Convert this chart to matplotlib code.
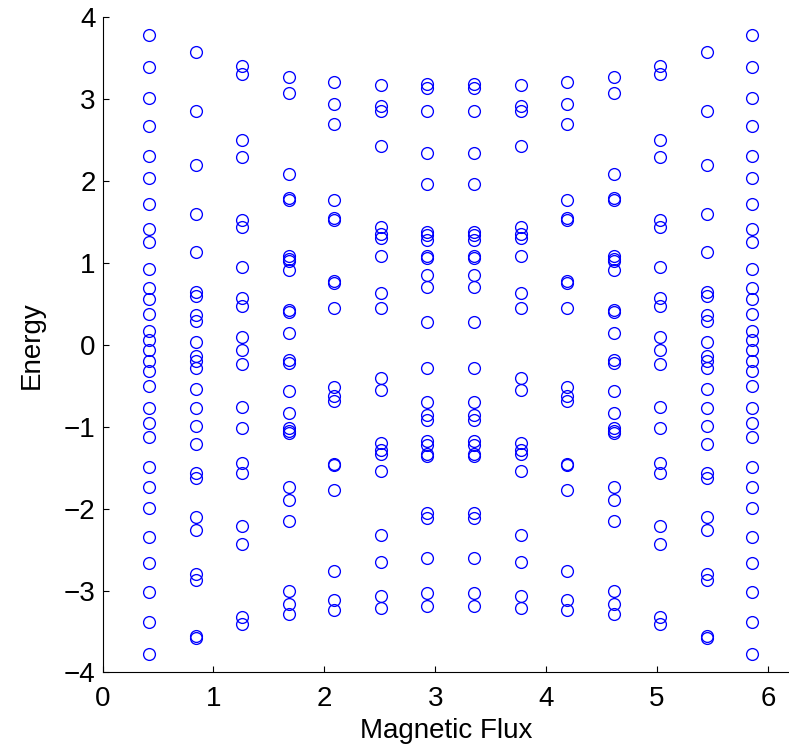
import matplotlib
matplotlib.use("Agg")
import matplotlib.pyplot as plt

plt.rcParams["font.family"] = ["Liberation Sans", "DejaVu Sans"]

# Flux values (x positions of the columns)
flux = [0.42, 0.84, 1.26, 1.68, 2.09, 2.51, 2.93,
        3.35, 3.77, 4.19, 4.61, 5.03, 5.45, 5.86]

# Energy levels (left half; right half mirrors it)
col1 = [3.78, 3.39, 3.01, 2.67, 2.31, 2.04, 1.72, 1.41, 1.25, 0.93,
        0.69, 0.56, 0.38, 0.17, 0.06, -0.06, -0.20, -0.32, -0.50, -0.77,
        -0.96, -1.13, -1.49, -1.74, -1.99, -2.35, -2.66, -3.02, -3.38, -3.78]
col2 = [3.57, 2.85, 2.19, 1.60, 1.13, 0.65, 0.60, 0.37, 0.29, 0.04,
        -0.14, -0.20, -0.28, -0.54, -0.77, -0.99, -1.21, -1.57, -1.63,
        -2.10, -2.26, -2.80, -2.87, -3.56, -3.58]
col3 = [3.41, 3.31, 2.50, 2.29, 1.53, 1.44, 0.95, 0.57, 0.48, 0.10,
        -0.06, -0.24, -0.76, -1.02, -1.44, -1.57, -2.21, -2.43, -3.32, -3.41]
col4 = [3.27, 3.08, 2.09, 1.79, 1.77, 1.08, 1.05, 1.02, 0.91, 0.42,
        0.40, 0.14, -0.18, -0.22, -0.56, -0.83, -1.02, -1.05, -1.08,
        -1.73, -1.89, -2.15, -3.01, -3.17, -3.29]
col5 = [3.21, 2.94, 2.70, 1.77, 1.55, 1.53, 0.78, 0.76, 0.45, -0.51,
        -0.63, -0.68, -1.45, -1.47, -1.77, -2.76, -3.11, -3.24]
col6 = [3.17, 2.91, 2.85, 2.43, 1.44, 1.35, 1.30, 1.09, 0.63, 0.45,
        -0.41, -0.55, -1.20, -1.28, -1.33, -1.54, -2.32, -2.65, -3.07, -3.21]
col7 = [3.19, 3.14, 2.85, 2.34, 1.96, 1.38, 1.34, 1.28, 1.08, 1.06,
        0.85, 0.70, 0.28, -0.28, -0.70, -0.86, -0.92, -1.18, -1.22,
        -1.33, -1.36, -2.05, -2.12, -2.60, -3.03, -3.19]

levels = [col1, col2, col3, col4, col5, col6, col7,
          col7, col6, col5, col4, col3, col2, col1]

fig = plt.figure(figsize=(7.89, 7.48), dpi=100)
ax = fig.add_axes([0.130, 0.101, 0.870, 0.876])

for x, energies in zip(flux, levels):
    ax.plot([x] * len(energies), energies, linestyle="none", marker="o",
            markersize=8.5, markerfacecolor="none", markeredgecolor="blue",
            markeredgewidth=0.95)

ax.set_xlim(0, 6.19)
ax.set_ylim(-4, 4)
ax.set_xticks([0, 1, 2, 3, 4, 5, 6])
ax.set_yticks([-4, -3, -2, -1, 0, 1, 2, 3, 4])

ax.spines["top"].set_visible(False)
ax.spines["right"].set_visible(False)
ax.spines["left"].set_linewidth(0.8)
ax.spines["bottom"].set_linewidth(0.8)
ax.tick_params(direction="in", length=4.5, width=0.8, labelsize=20)
ax.tick_params(axis="x", pad=10)
ax.tick_params(axis="y", pad=5)

ax.set_xlabel("Magnetic Flux", fontsize=20, labelpad=4)
ax.set_ylabel("Energy", fontsize=20, labelpad=14)

fig.savefig("out.png", dpi=100)
